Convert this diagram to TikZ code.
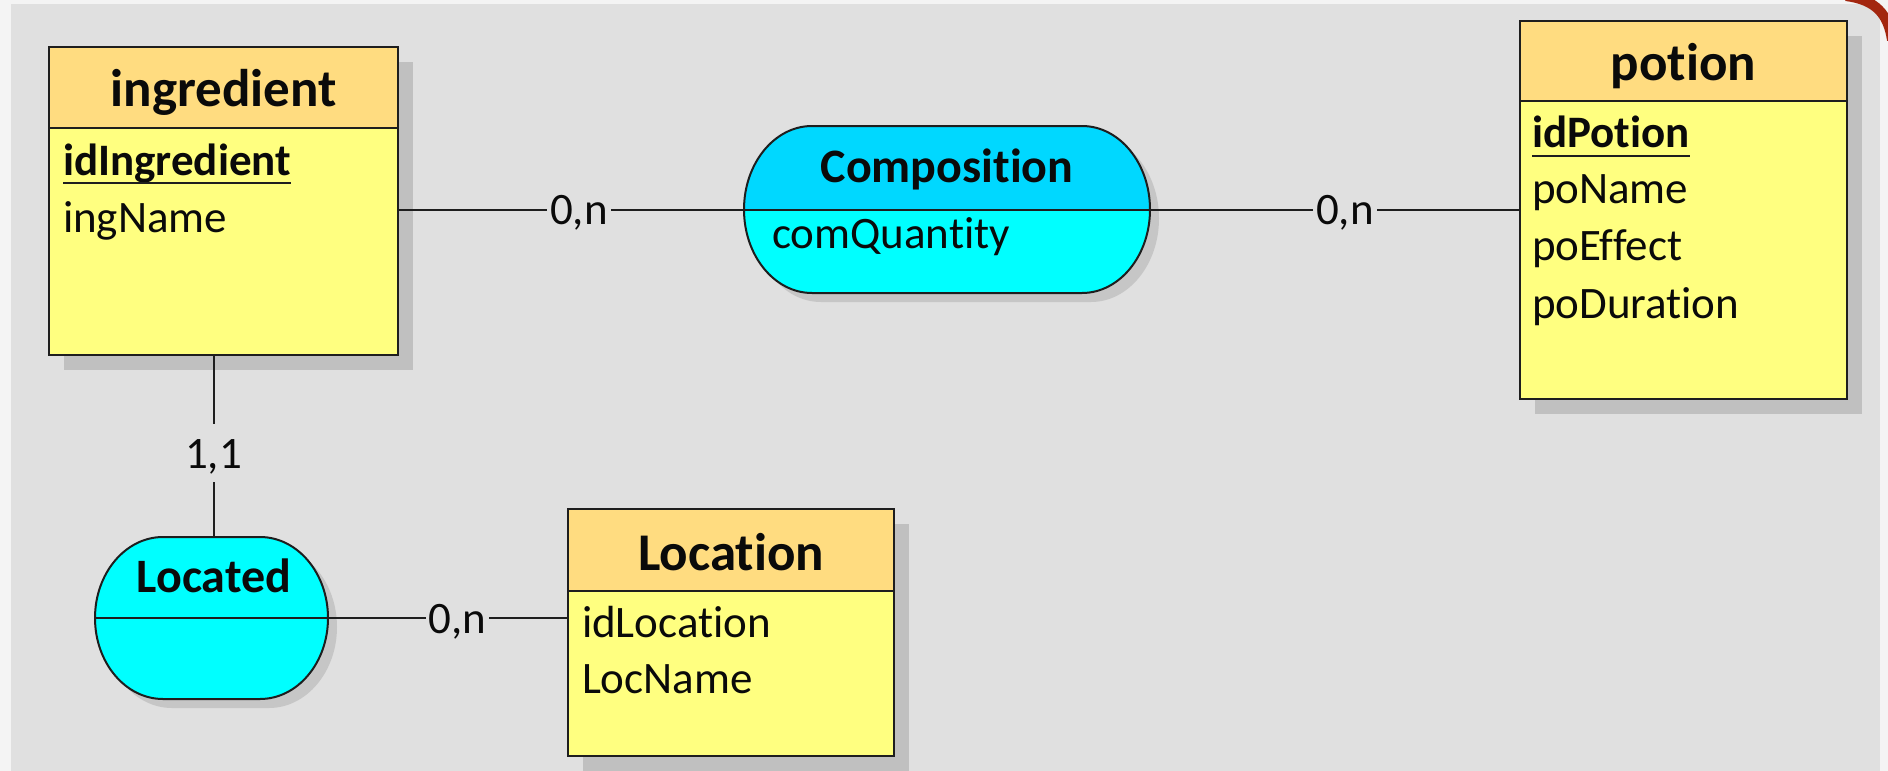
\documentclass[tikz,border=0pt]{standalone}
\usepackage{fontspec}
\setmainfont[Ligatures={NoCommon}]{Carlito}
\definecolor{outerbg}{HTML}{F4F4F4}
\definecolor{bg}{HTML}{E0E0E0}
\definecolor{shadowc}{HTML}{C0C0C0}
\definecolor{relshadowc}{HTML}{C6C6C6}
\definecolor{headc}{HTML}{FFDC80}
\definecolor{bodyc}{HTML}{FFFF80}
\definecolor{reltop}{HTML}{00D8FF}
\definecolor{relbot}{HTML}{00FFFF}
\definecolor{edgec}{HTML}{1E1E1E}
\definecolor{txt}{HTML}{0A0A0A}
\definecolor{darkred}{HTML}{A3260F}
\begin{document}
\begin{tikzpicture}[x=1pt,y=-1pt,
  every node/.style={inner sep=0pt, outer sep=0pt, text=txt},
  conn/.style={draw=edgec, line width=2pt},
  entbody/.style={rectangle, draw=edgec, line width=2pt, fill=bodyc},
  enthead/.style={draw=edgec, line width=2pt, fill=headc},
  relframe/.style={rectangle, draw=none, fill=none},
  enttitle/.style={anchor=base, font=\fontsize{53}{60}\selectfont\bfseries},
  reltitle/.style={anchor=base, font=\fontsize{48}{56}\selectfont\bfseries},
  attr/.style={anchor=base west, font=\fontsize{45}{54}\selectfont},
  keyattr/.style={anchor=base west, font=\fontsize{45}{54}\selectfont\bfseries},
  card/.style={font=\fontsize{45}{54}\selectfont, fill=bg, text height=30pt, text depth=0pt, inner xsep=3pt, inner ysep=14pt},
  keyline/.style={draw=edgec, line width=2pt}
]
\useasboundingbox (0,0) rectangle (1888,771);
\fill[outerbg] (0,0) rectangle (1888,771);
\fill[bg] (11,4) rectangle (1880,771);
\begin{scope}
  \clip (0,0) rectangle (1888,771);
  \draw[darkred, line width=10pt] (1846,-4) .. controls (1876,0) and (1888,14) .. (1892,40);
\end{scope}

% ---------- shadows ----------
\fill[shadowc] (64,62) rectangle (413,370);
\fill[shadowc] (1535,36) rectangle (1862,414);
\fill[shadowc] (583,524) rectangle (909,771);
\begin{scope}[shift={(9,9)}]
  \fill[relshadowc] (812,126) -- (1082,126) arc[start angle=-90,end angle=90,x radius=68,y radius=83.5] -- (812,293) arc[start angle=90,end angle=270,x radius=68,y radius=83.5] -- cycle;
  \fill[relshadowc] (163,537) -- (260,537) arc[start angle=-90,end angle=90,x radius=68,y radius=81] -- (163,699) arc[start angle=90,end angle=270,x radius=68,y radius=81] -- cycle;
\end{scope}

% ---------- entities ----------
\node[entbody, minimum width=349pt, minimum height=308pt] (ing) at (223.5,201) {};
\draw[enthead] (49,47) rectangle (398,128);
\node[enttitle] (ingT) at (223.5,106) {ingredient};
\node[keyattr] (ingK) at (63,175) {idIngredient};
\draw[keyline] ([yshift=-8pt]ingK.base west) -- ([yshift=-8pt]ingK.base east);
\node[attr] (ingA1) at (63,232) {ingName};

\node[entbody, minimum width=327pt, minimum height=378pt] (pot) at (1683.5,210) {};
\draw[enthead] (1520,21) rectangle (1847,101);
\node[enttitle] (potT) at (1683.5,80) {potion};
\node[keyattr] (potK) at (1532,147) {idPotion};
\draw[keyline] ([yshift=-9pt]potK.base west) -- ([yshift=-9pt]potK.base east);
\node[attr] (potA1) at (1532,203) {poName};
\node[attr] (potA2) at (1532,260) {poEffect};
\node[attr] (potA3) at (1532,318) {poDuration};

\node[entbody, minimum width=326pt, minimum height=247pt] (locn) at (731,632.5) {};
\draw[enthead] (568,509) rectangle (894,591);
\node[enttitle] (locnT) at (731,570) {Location};
\node[attr] (locnA1) at (582,637) {idLocation};
\node[attr] (locnA2) at (582,693) {LocName};

% ---------- relations ----------
\node[relframe, minimum width=406pt, minimum height=167pt] (comp) at (947,209.5) {};
\fill[relbot] (812,126) -- (1082,126) arc[start angle=-90,end angle=90,x radius=68,y radius=83.5] -- (812,293) arc[start angle=90,end angle=270,x radius=68,y radius=83.5] -- cycle;
\begin{scope}
  \clip (812,126) -- (1082,126) arc[start angle=-90,end angle=90,x radius=68,y radius=83.5] -- (812,293) arc[start angle=90,end angle=270,x radius=68,y radius=83.5] -- cycle;
  \fill[reltop] (740,120) rectangle (1155,209);
\end{scope}
\draw[edgec, line width=2pt] (comp.west) -- (comp.east);
\draw[edgec, line width=2pt] (812,126) -- (1082,126) arc[start angle=-90,end angle=90,x radius=68,y radius=83.5] -- (812,293) arc[start angle=90,end angle=270,x radius=68,y radius=83.5] -- cycle;
\node[reltitle] (compT) at (947,182) {Composition};
\node[attr] (compA1) at (772,248) {comQuantity};

\node[relframe, minimum width=233pt, minimum height=162pt] (locd) at (211.5,618) {};
\fill[relbot] (163,537) -- (260,537) arc[start angle=-90,end angle=90,x radius=68,y radius=81] -- (163,699) arc[start angle=90,end angle=270,x radius=68,y radius=81] -- cycle;
\draw[edgec, line width=2pt] (locd.west) -- (locd.east);
\draw[edgec, line width=2pt] (163,537) -- (260,537) arc[start angle=-90,end angle=90,x radius=68,y radius=81] -- (163,699) arc[start angle=90,end angle=270,x radius=68,y radius=81] -- cycle;
\node[reltitle] (locdT) at (214,592) {Located};

% ---------- connectors ----------
\draw[conn] (comp.west -| ing.east) -- (comp.west) node[card, pos=0.523] (c1) {0,n};
\draw[conn] (comp.east) -- (comp.east -| pot.west) node[card, pos=0.527] (c2) {0,n};
\draw[conn] ([xshift=2pt]locd.north |- ing.south) -- ([xshift=2pt]locd.north) node[card, pos=0.54] (c3) {1,1};
\draw[conn] (locd.east) -- (locd.east -| locn.west) node[card, pos=0.54] (c4) {0,n};
\end{tikzpicture}
\end{document}
